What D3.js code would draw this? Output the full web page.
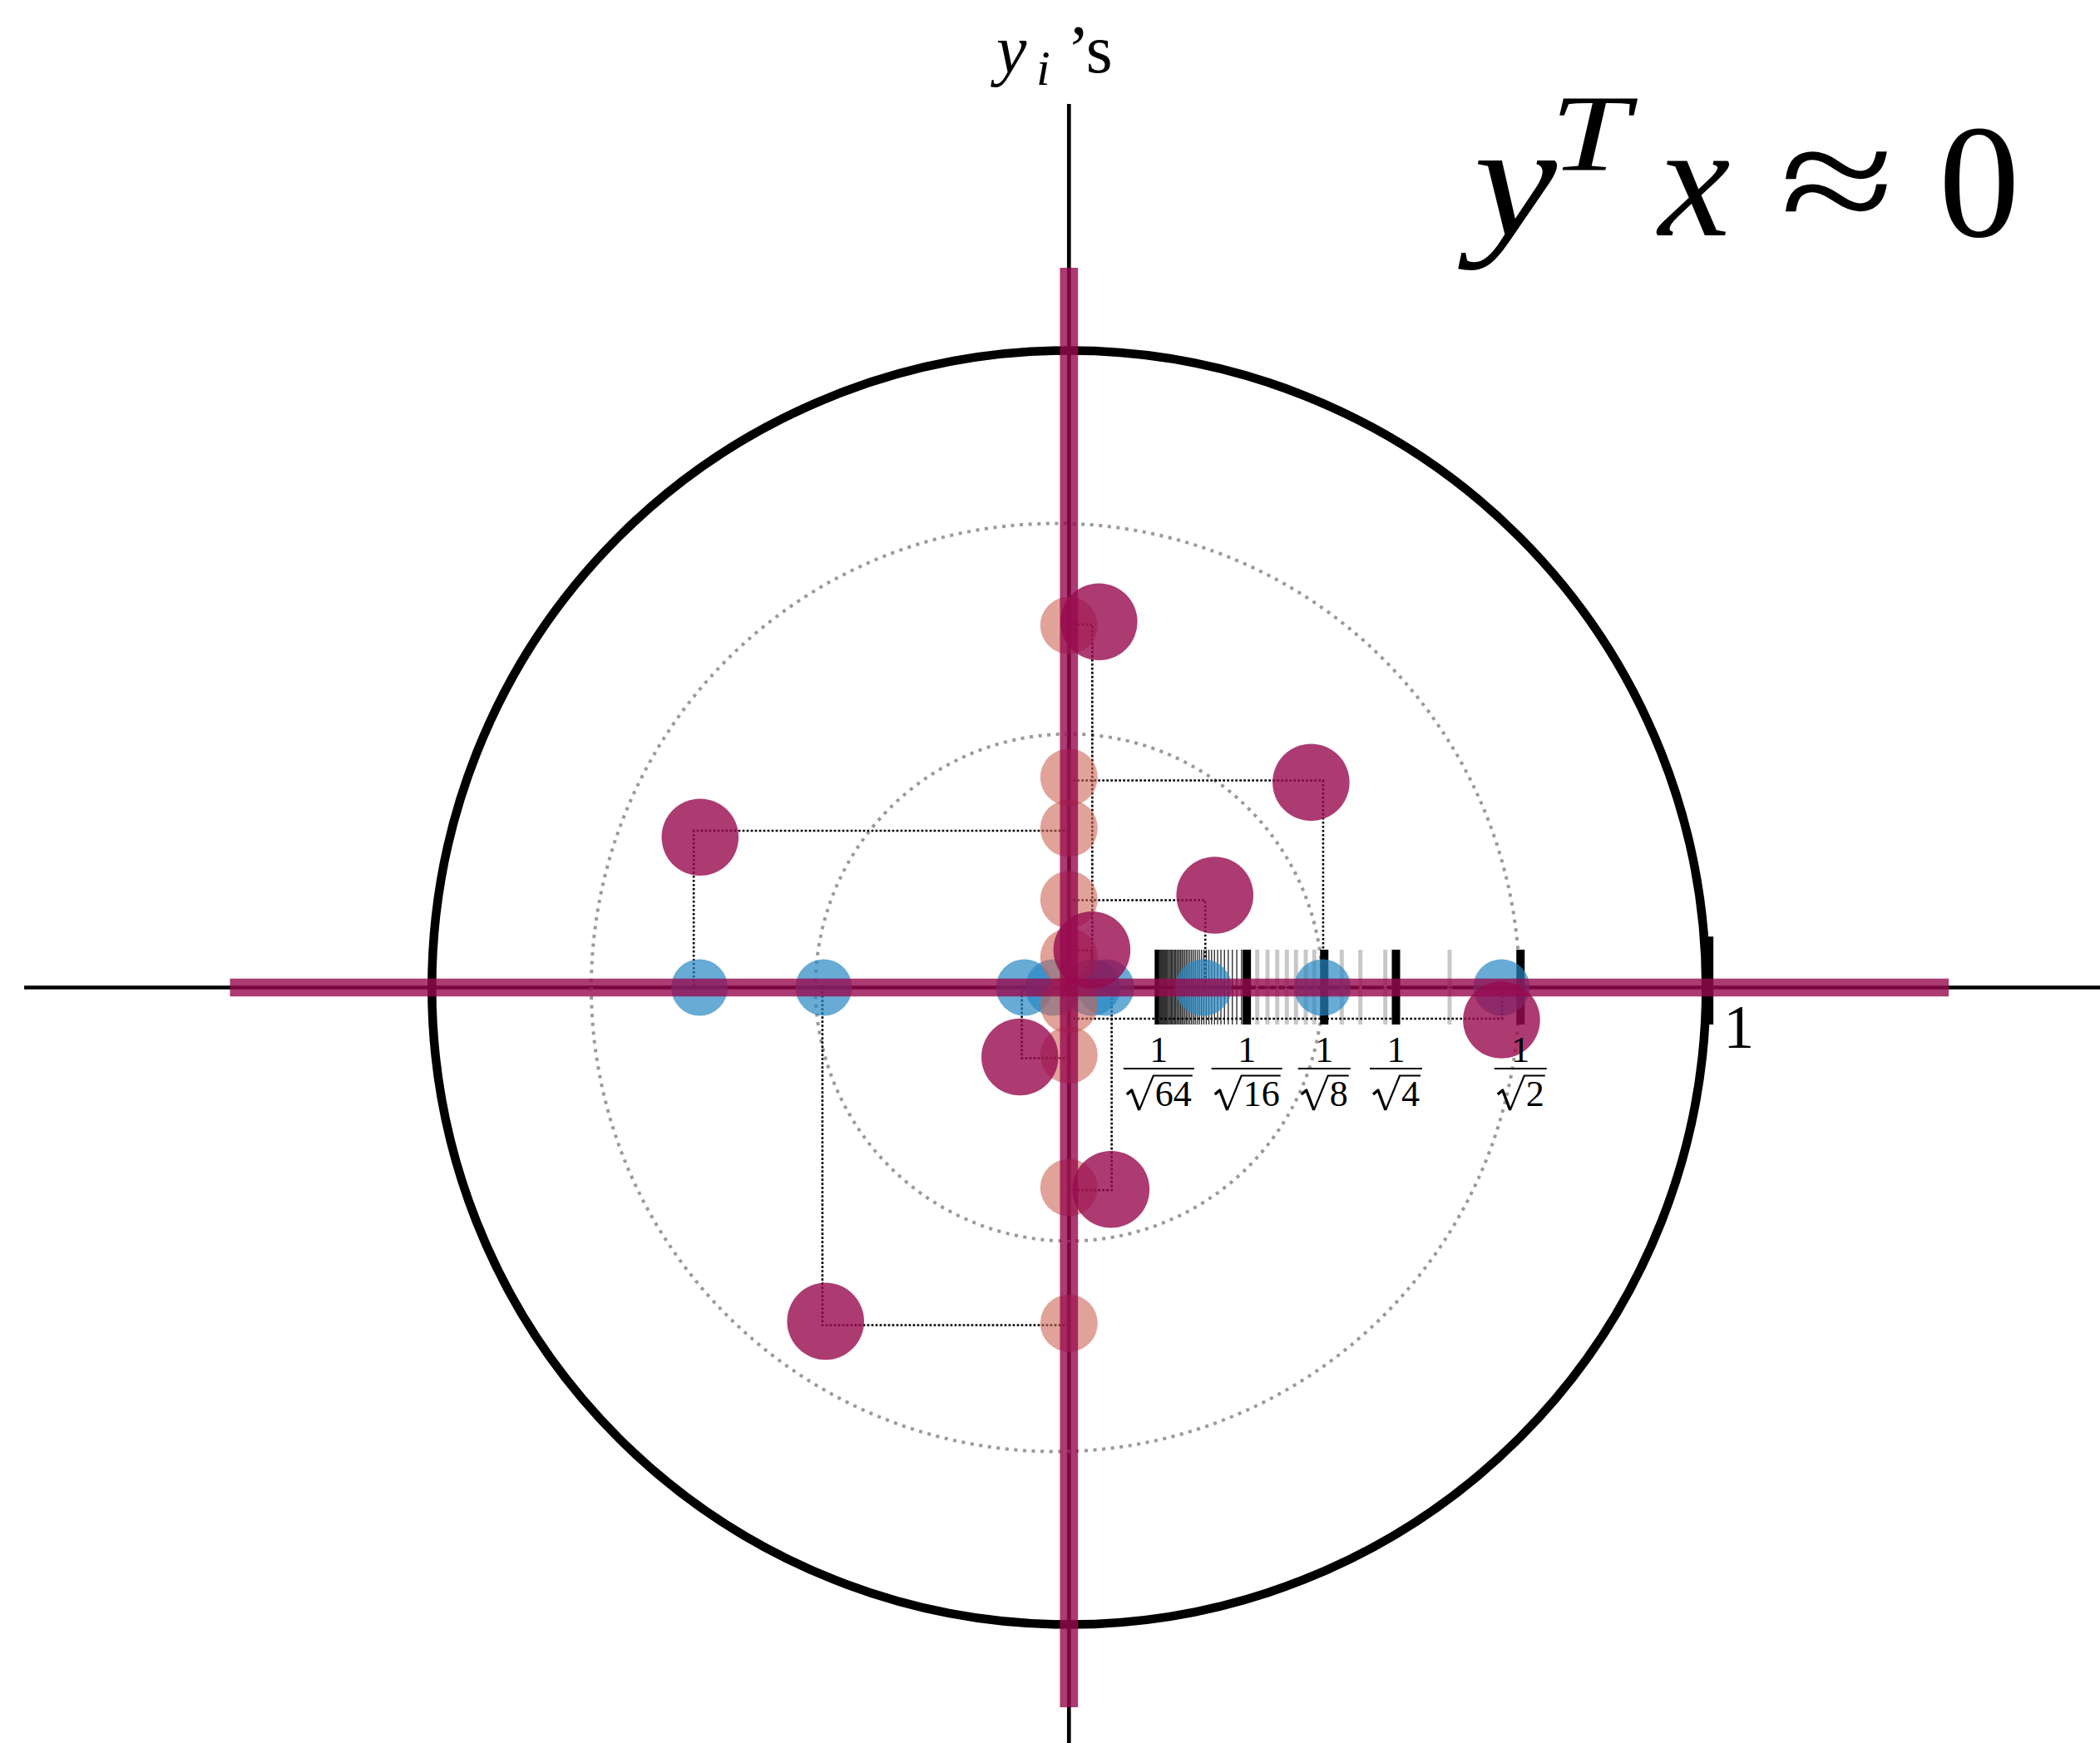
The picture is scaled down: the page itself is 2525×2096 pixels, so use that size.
<!DOCTYPE html>
<html>
<head>
<meta charset="utf-8">
<script src="https://cdn.jsdelivr.net/npm/d3@7"></script>
<style>
  html, body { margin: 0; padding: 0; background: #ffffff; }
  svg { display: block; }
</style>
</head>
<body>
<svg id="chart" width="2525" height="2096"></svg>
<script>
// Entries of x (drawn on the horizontal axis) and y (drawn on the vertical axis),
// in units of the unit circle, listed pair by pair.
const xEntries = [-0.580, -0.385, -0.070, -0.024, 0.036, 0.058, 0.211, 0.398, 0.679];
const yEntries = [0.250, -0.527, -0.106, 0.048, 0.5685, -0.314, 0.138, 0.330, -0.027];

// The pairs (x_i, y_i) as plotted points.
const pairX = [-0.579, -0.382, -0.077, 0.036, 0.047, 0.066, 0.229, 0.380, 0.679];
const pairY = [0.236, -0.524, -0.109, 0.059, 0.574, -0.317, 0.145, 0.322, -0.051];

// Corners of the dotted guide rectangles.
const guideX = [-0.589, -0.387, -0.074, 0.0355, 0.0366, 0.067, 0.214, 0.399, 0.680];
const guideY = [0.246, -0.530, -0.111, 0.0585, 0.570, -0.318, 0.137, 0.325, -0.049];

// Rug of reference lengths 1/sqrt(n), n = 1..64.
const rugN = [1, 2, 3, 4, 5, 6, 7, 8, 9, 10, 11, 12, 13, 14, 15, 16,
  17, 18, 19, 20, 21, 22, 23, 24, 25, 26, 27, 28, 29, 30, 31, 32,
  33, 34, 35, 36, 37, 38, 39, 40, 41, 42, 43, 44, 45, 46, 47, 48,
  49, 50, 51, 52, 53, 54, 55, 56, 57, 58, 59, 60, 61, 62, 63, 64];
// Where the rug places 1/sqrt(n) along the radius.
const rugStopN   = [64, 16, 15, 14, 13, 12, 11, 10, 9, 8, 7, 6, 5, 4, 3, 2, 1];
const rugStopPos = [0.141, 0.2792, 0.2956, 0.3116, 0.3269, 0.3420, 0.3564, 0.3717,
                    0.3851, 0.4007, 0.4282, 0.4574, 0.4966, 0.5133, 0.5975, 0.7088, 1.005];
const labeledN = [64, 16, 8, 4, 2];

// Dotted reference rings: centre offset along x and radius.
const ringCx = [0, -0.0213];
const ringR  = [0.398, 0.7285];

// Extents of the highlighted axis bands and of the thin axes.
const bandX = [-1.317, 1.381];
const bandY = [-1.13, 1.13];
const axisX = [-1.640, 1.62];
const axisY = [-1.19, 1.387];

// ---------------------------------------------------------------
const R = 766, CX = 1285.3, CY = 1187.5;
const x = d3.scaleLinear().domain([-1, 1]).range([CX - R, CX + R]);
const y = d3.scaleLinear().domain([-1, 1]).range([CY + R, CY - R]);
const rugPos = d3.scaleLinear()
  .domain(rugStopN.map(n => 1 / Math.sqrt(n)))
  .range(rugStopPos);

const svg = d3.select('#chart');
const SERIF = '"Liberation Serif", "DejaVu Serif", serif';
const PURPLE = 'rgba(151,10,79,0.8)';
const BLUE = 'rgba(40,135,195,0.7)';
const PINK = 'rgba(205,100,85,0.6)';

// thin axes
svg.append('line')
  .attr('x1', x(axisX[0])).attr('x2', x(axisX[1]))
  .attr('y1', y(0)).attr('y2', y(0))
  .attr('stroke', '#000').attr('stroke-width', 4.7);
svg.append('line')
  .attr('x1', x(0)).attr('x2', x(0))
  .attr('y1', y(axisY[0])).attr('y2', y(axisY[1]))
  .attr('stroke', '#000').attr('stroke-width', 4.7);

// unit circle
svg.append('circle')
  .attr('cx', x(0)).attr('cy', y(0)).attr('r', x(1) - x(0))
  .attr('fill', 'none').attr('stroke', '#000').attr('stroke-width', 10.5);

// dotted rings
svg.selectAll('circle.ring').data(ringR).join('circle')
  .attr('class', 'ring')
  .attr('cx', (d, i) => x(ringCx[i])).attr('cy', y(0))
  .attr('r', d => x(d) - x(0))
  .attr('fill', 'none').attr('stroke', '#9a9a9a')
  .attr('stroke-width', 4).attr('stroke-dasharray', '4 6.6');

// rug ticks
const rugTop = y(0.0594), rugBot = y(-0.0581);
const rug = svg.append('g');
rug.selectAll('line').data(rugN.slice().reverse()).join('line')
  .attr('x1', n => x(rugPos(1 / Math.sqrt(n))))
  .attr('x2', n => x(rugPos(1 / Math.sqrt(n))))
  .attr('y1', n => n === 1 ? y(0.08) : rugTop)
  .attr('y2', rugBot)
  .attr('stroke', n => (labeledN.includes(n) || n === 1) ? '#000' : (n < 16 ? '#c8c8c8' : '#333'))
  .attr('stroke-width', n => (labeledN.includes(n) || n === 1) ? 10 : (n < 16 ? 5 : 1.4));

// dotted guides
svg.append('g').selectAll('path').data(guideX).join('path')
  .attr('d', (gx, i) => `M${x(0)},${y(guideY[i])}H${x(gx)}V${y(0)}H${x(0)}Z`)
  .attr('fill', 'none').attr('stroke', '#000')
  .attr('stroke-width', 2.6).attr('stroke-dasharray', '2.7 2.3');

// x entries (blue) and y entries (pink)
svg.append('g').selectAll('circle').data(xEntries).join('circle')
  .attr('cx', d => x(d)).attr('cy', y(0)).attr('r', 34)
  .attr('fill', BLUE);
svg.append('g').selectAll('circle').data(yEntries).join('circle')
  .attr('cx', x(0)).attr('cy', d => y(d)).attr('r', 34.5)
  .attr('fill', PINK);

// highlighted axis bands
svg.append('line')
  .attr('x1', x(bandX[0])).attr('x2', x(bandX[1]))
  .attr('y1', y(0)).attr('y2', y(0))
  .attr('stroke', PURPLE).attr('stroke-width', 21.7);
svg.append('line')
  .attr('x1', x(0)).attr('x2', x(0))
  .attr('y1', y(bandY[0])).attr('y2', y(bandY[1]))
  .attr('stroke', PURPLE).attr('stroke-width', 21.7);

// paired points
svg.append('g').selectAll('circle').data(pairX).join('circle')
  .attr('cx', d => x(d)).attr('cy', (d, i) => y(pairY[i])).attr('r', 46.3)
  .attr('fill', PURPLE);

// fraction labels 1/sqrt(n)
const labels = svg.append('g').attr('font-family', SERIF).attr('fill', '#000');
labeledN.forEach(n => {
  const cxl = x(rugPos(1 / Math.sqrt(n)));
  const g = labels.append('g');
  g.append('text').text('1')
    .attr('x', cxl).attr('y', 1277).attr('text-anchor', 'middle')
    .attr('font-size', 44);
  const den = g.append('text').text(String(n))
    .attr('y', 1330).attr('font-size', 44);
  const dw = den.node().getComputedTextLength();
  const radW = 35;
  const W = radW + dw;
  const rx = cxl - W / 2;
  den.attr('x', rx + radW);
  // radical sign and vinculum
  g.append('path')
    .attr('d', `M${rx + 1},${1316}L${rx + 7},${1311}L${rx + 16},${1335}`)
    .attr('fill', 'none').attr('stroke', '#000').attr('stroke-width', 3.4)
    .attr('stroke-linejoin', 'round');
  g.append('path')
    .attr('d', `M${rx + 16},${1335}L${rx + 33},${1293.5}H${rx + W + 1}`)
    .attr('fill', 'none').attr('stroke', '#000').attr('stroke-width', 2.2)
    .attr('stroke-linejoin', 'miter');
  // fraction bar
  g.append('line')
    .attr('x1', cxl - W / 2 - 3).attr('x2', cxl + W / 2 + 3)
    .attr('y1', 1285).attr('y2', 1285)
    .attr('stroke', '#000').attr('stroke-width', 2.2);
});

// label of the unit tick
labels.append('text').text('1')
  .attr('x', x(rugPos(1)) + 17).attr('y', 1260)
  .attr('font-size', 74);

// axis title y_i's, set as one text run
const yt = svg.append('text').attr('font-family', SERIF).attr('fill', '#000');
yt.append('tspan').text('y').attr('x', 1198).attr('y', 87)
  .attr('font-size', 82).attr('font-style', 'italic');
yt.append('tspan').text('i').attr('x', 1246).attr('y', 102)
  .attr('font-size', 60).attr('font-style', 'italic');
yt.append('tspan').text('\u2019s').attr('x', 1283).attr('y', 87)
  .attr('font-size', 82);

// headline y^T x ≈ 0
const hd = svg.append('g').attr('font-family', SERIF).attr('fill', '#000');
hd.append('text').text('y').attr('x', 1772).attr('y', 283)
  .attr('font-size', 195).attr('font-style', 'italic')
  .attr('textLength', 100).attr('lengthAdjust', 'spacingAndGlyphs');
hd.append('text').text('T').attr('x', 1864).attr('y', 205)
  .attr('font-size', 132).attr('font-style', 'italic')
  .attr('textLength', 95).attr('lengthAdjust', 'spacingAndGlyphs');
hd.append('text').text('x').attr('x', 1994).attr('y', 283)
  .attr('font-size', 195).attr('font-style', 'italic');
hd.append('text').text('\u2248').attr('x', 2140).attr('y', 283)
  .attr('font-size', 195)
  .attr('textLength', 138).attr('lengthAdjust', 'spacingAndGlyphs');
hd.append('text').text('0').attr('x', 2331).attr('y', 284)
  .attr('font-size', 195);
</script>
</body>
</html>
